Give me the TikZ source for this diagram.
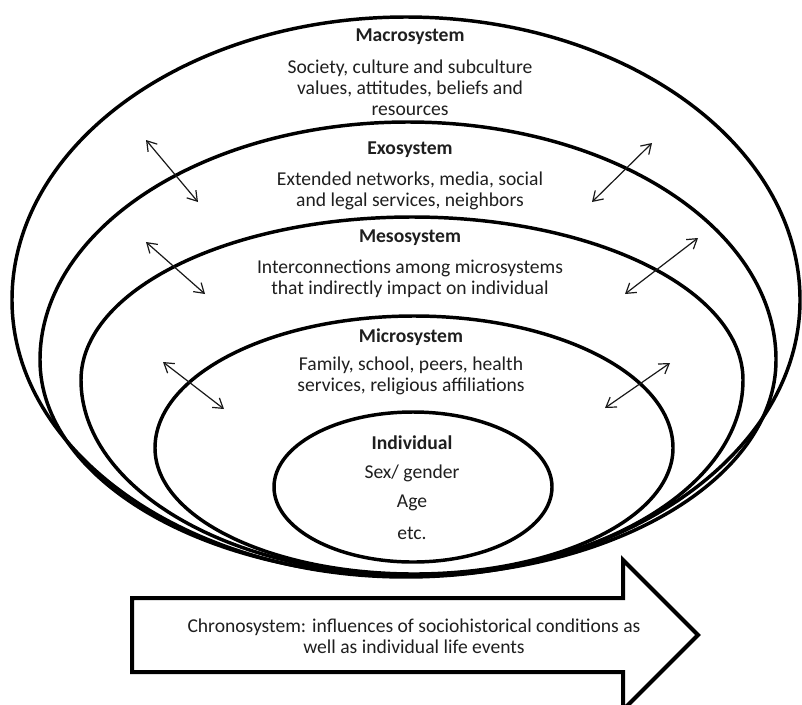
\documentclass[tikz,border=0pt]{standalone}
\usepackage{fontspec}
\setmainfont{Carlito}
\usetikzlibrary{arrows.meta}
\begin{document}
\begin{tikzpicture}[x=0.75pt,y=-0.75pt,
  ring/.style={line width=2.6pt, draw=black},
  chrono/.style={line width=3pt, draw=black, line join=miter},
  biarrow/.style={{Straight Barb[length=7pt,width=9pt]}-{Straight Barb[length=7pt,width=9pt]}, line width=0.9pt, draw=black!90},
  lbl/.style={inner sep=0pt, align=center, text=black!88, font=\fontsize{14.7}{15.75}\selectfont},
  ttl/.style={lbl, font=\fontsize{14.7}{15.75}\selectfont\bfseries}
]
\useasboundingbox (0,0) rectangle (802,704);
\fill[white] (0,0) rectangle (802,704);

% nested egg-shaped rings: start at left widest point
\draw[ring] (12,300) arc[start angle=180,end angle=360,x radius=394,y radius=283]
                     arc[start angle=0,end angle=180,x radius=394,y radius=277] -- cycle;
\draw[ring] (40,360) arc[start angle=180,end angle=360,x radius=368,y radius=238]
                     arc[start angle=0,end angle=180,x radius=368,y radius=216] -- cycle;
\draw[ring] (81,380) arc[start angle=180,end angle=360,x radius=331,y radius=163]
                     arc[start angle=0,end angle=180,x radius=331,y radius=195] -- cycle;
\draw[ring] (155,448) arc[start angle=180,end angle=360,x radius=259,y radius=132]
                      arc[start angle=0,end angle=180,x radius=259,y radius=126] -- cycle;
\draw[ring] (413,487) ellipse[x radius=139,y radius=75];

% texts
\node[ttl] (macroT) at (410,37) {Macrosystem};
\node[lbl] (macroB) at (410,88) {Society, culture and subculture\\values, attitudes, beliefs and\\resources};
\node[ttl] (exoT) at (410,150) {Exosystem};
\node[lbl] (exoB) at (410,190.5) {Extended networks, media, social\\and legal services, neighbors};
\node[ttl] (mesoT) at (410,238) {Mesosystem};
\node[lbl] (mesoB) at (410,279) {Interconnections among microsystems\\that indirectly impact on individual};
\node[ttl] (microT) at (411,337) {Microsystem};
\node[lbl] (microB) at (411,376) {Family, school, peers, health\\services, religious affiliations};
\node[ttl] (indT) at (412,443) {Individual};
\node[lbl] (sex) at (412,473) {Sex/ gender};
\node[lbl] (age) at (412,503) {Age};
\node[lbl] (etc) at (412,533) {etc.};

% double arrows across boundaries
\coordinate (a1) at (146,140); \coordinate (b1) at (198,202);
\coordinate (c1) at (652,143); \coordinate (d1) at (592,202);
\coordinate (a2) at (146,242); \coordinate (b2) at (205,294);
\coordinate (c2) at (698,238); \coordinate (d2) at (625,294);
\coordinate (a3) at (163,362); \coordinate (b3) at (224,409);
\coordinate (c3) at (670,363); \coordinate (d3) at (605,408);
\draw[biarrow] (a1) -- (b1);
\draw[biarrow] (c1) -- (d1);
\draw[biarrow] (a2) -- (b2);
\draw[biarrow] (c2) -- (d2);
\draw[biarrow] (a3) -- (b3);
\draw[biarrow] (c3) -- (d3);

% chronosystem arrow
\draw[chrono] (132,598) -- (623,598) -- (623,560) -- (698,635) -- (623,710) -- (623,672) -- (132,672) -- cycle;
\node[lbl] (chronoT) at (414,636.5) {Chronosystem: influences of sociohistorical conditions as\\well as individual life events};
\end{tikzpicture}
\end{document}
